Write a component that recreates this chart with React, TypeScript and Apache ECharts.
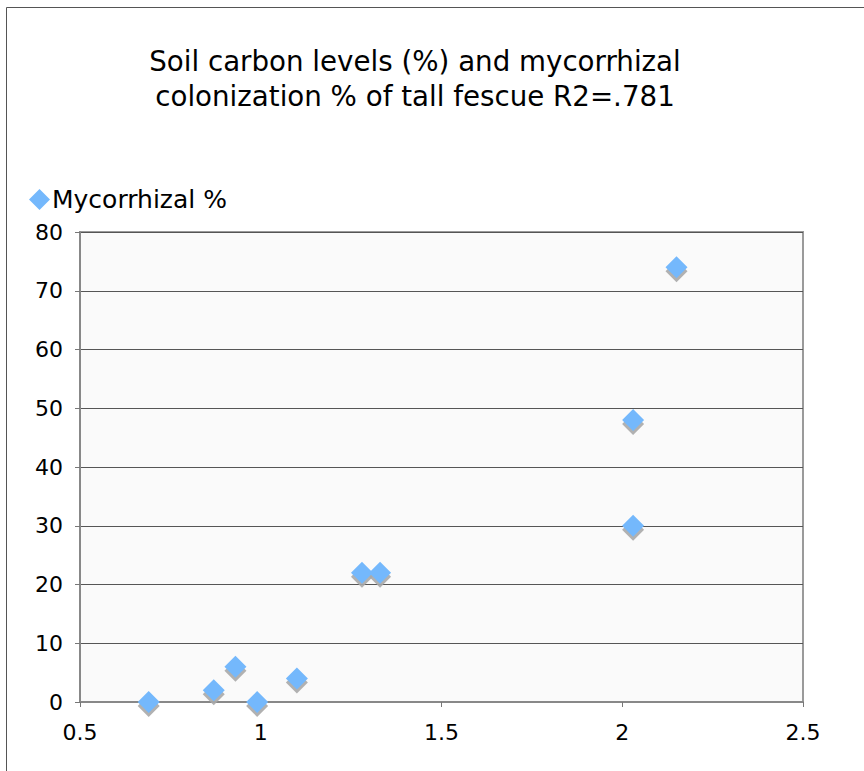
import React, { useEffect, useRef } from "react";
import * as echarts from "echarts";

const carbon = [0.69, 0.87, 0.93, 0.99, 1.1, 1.28, 1.33, 2.03, 2.03, 2.15];
const mycorrhizal = [0, 2, 6, 0, 4, 22, 22, 48, 30, 74];
const xTicks = [0.5, 1, 1.5, 2, 2.5];
const yTicks = [0, 10, 20, 30, 40, 50, 60, 70, 80];
const seriesName = "Mycorrhizal %";
const titleText = "Soil carbon levels (%) and mycorrhizal\ncolonization % of tall fescue R2=.781";

export default function App() {
  const ref = useRef<HTMLDivElement>(null);
  useEffect(() => {
    document.body.style.margin = "0";
    const chart = echarts.init(ref.current!, null, { renderer: "svg" });
    const pts = carbon.map((c, i) => [c, mycorrhizal[i]]);
    const font = "DejaVu Sans";
    chart.setOption({
      animation: false,
      backgroundColor: "#ffffff",
      textStyle: { fontFamily: font },
      title: {
        text: titleText,
        left: 410,
        top: 39,
        textAlign: "center",
        textStyle: { fontSize: 27.7, lineHeight: 35, fontWeight: "normal", color: "#000", fontFamily: font },
      },
      legend: {
        data: [seriesName],
        left: 24,
        top: 182,
        icon: "diamond",
        itemWidth: 21,
        itemHeight: 21,
        itemGap: 4,
        textStyle: { fontSize: 25, color: "#000", fontFamily: font, padding: [0, 0, 0, -3] },
      },
      graphic: [
        {
          type: "rect",
          shape: { x: 6.5, y: 7.5, width: 900, height: 900 },
          style: { fill: "none", stroke: "#555", lineWidth: 1 },
          silent: true,
          z: -10,
        },
      ],
      grid: {
        left: 80,
        top: 232,
        right: 61,
        bottom: 69,
        show: true,
        backgroundColor: "#fafafa",
        borderColor: "#9a9a9a",
        borderWidth: 2,
      },
      xAxis: {
        type: "value",
        min: xTicks[0],
        max: xTicks[xTicks.length - 1],
        interval: 0.5,
        axisLine: { show: true, lineStyle: { color: "#888", width: 2 } },
        axisTick: { show: true, length: 5, lineStyle: { color: "#777", width: 1 } },
        splitLine: { show: false },
        axisLabel: { fontSize: 22, color: "#000", margin: 19, fontFamily: font },
      },
      yAxis: {
        type: "value",
        min: yTicks[0],
        max: yTicks[yTicks.length - 1],
        interval: 10,
        axisLine: { show: true, lineStyle: { color: "#888", width: 2 } },
        axisTick: { show: true, length: 5, lineStyle: { color: "#777", width: 1 } },
        splitLine: { show: true, lineStyle: { color: "#555", width: 1 } },
        axisLabel: { fontSize: 22, color: "#000", margin: 17, fontFamily: font },
      },
      series: [
        {
          name: "shadow",
          type: "scatter",
          data: pts,
          symbol: "diamond",
          symbolSize: 22,
          symbolOffset: [0, 4],
          itemStyle: { color: "#a9a9a9", opacity: 0.9 },
          silent: true,
          z: 2,
        },
        {
          name: seriesName,
          type: "scatter",
          data: pts,
          symbol: "diamond",
          symbolSize: 22,
          itemStyle: { color: "#74b8fc", opacity: 1 },
          z: 3,
        },
      ],
    });
    return () => chart.dispose();
  }, []);
  return <div ref={ref} style={{ width: 864, height: 771 }} />;
}
